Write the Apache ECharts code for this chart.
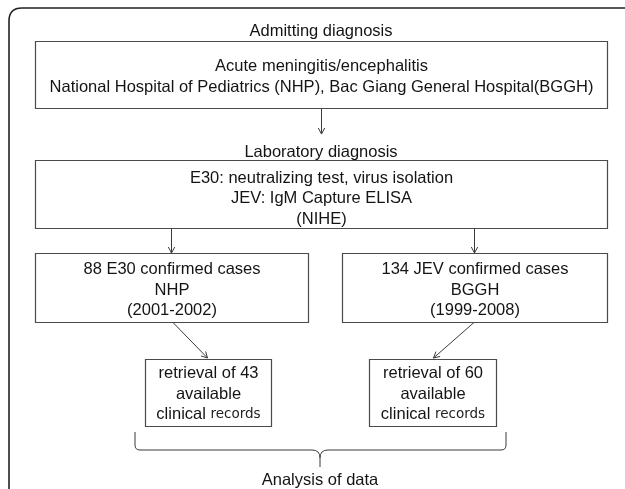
<!DOCTYPE html>
<html>
<head>
<meta charset="utf-8">
<script src="https://cdn.jsdelivr.net/npm/echarts@6/dist/echarts.min.js"></script>
<style>
html, body { margin: 0; padding: 0; background: #fff; }
#flowchart { width: 625px; height: 489px; }
</style>
</head>
<body>
<div id="flowchart"></div>
<script>
// content of the flow chart
var stageTitles = ['Admitting diagnosis', 'Laboratory diagnosis', 'Analysis of data'];
var boxTexts = [
    'Acute meningitis/encephalitis\nNational Hospital of Pediatrics (NHP), Bac Giang General Hospital(BGGH)',
    'E30: neutralizing test, virus isolation\nJEV: IgM Capture ELISA\n(NIHE)',
    '88 E30 confirmed cases\nNHP\n(2001-2002)',
    '134 JEV confirmed cases\nBGGH\n(1999-2008)',
    'retrieval of 43\navailable\nclinical {r|records}',
    'retrieval of 60\navailable\nclinical {r|records}'
];
// from box -> to box (-1 = next stage title)
var arrowLinks = [[0, -1], [1, 2], [1, 3], [2, 4], [3, 5]];
var bracedBoxes = [4, 5];

// layout, in page units (x axis 0..625, y axis 0..489 downwards)
var boxLayout = [
    [35, 41, 607, 108],
    [35, 160, 607, 228],
    [35, 253, 308, 322],
    [342, 253, 607, 322],
    [145, 359, 271, 426],
    [369, 359, 496, 426]
];
var textShift = [2, 4, 2, 2, 1, 1];
var titleLayout = [[321, 31], [321, 152], [320, 480]];
var arrowLayout = [
    [321, 108, 321, 134],
    [171, 228, 171, 253],
    [474, 228, 474, 253],
    [172, 322, 207, 358],
    [474, 322, 433, 358]
];
var braceLayout = { left: 135, right: 506, top: 432, bar: 450, tip: 467, mid: 320 };

var FONT = '"Liberation Sans", Arial, Helvetica, sans-serif';
var LINE = '#3a3a3a';

function pathFrom(api, cmds) {
    // cmds: [['M', x, y], ['Q', cx, cy, x, y], ...] in page units
    var d = '';
    cmds.forEach(function (c) {
        d += c[0];
        for (var k = 1; k < c.length; k += 2) {
            var p = api.coord([c[k], c[k + 1]]);
            d += ' ' + p[0] + ' ' + p[1];
        }
        d += ' ';
    });
    return d;
}

function renderBox(params, api) {
    var i = api.value(0);
    var b = boxLayout[i];
    var p0 = api.coord([b[0], b[1]]);
    var p1 = api.coord([b[2], b[3]]);
    return {
        type: 'rect',
        shape: { x: p0[0] + 0.5, y: p0[1] + 0.5, width: p1[0] - p0[0], height: p1[1] - p0[1] },
        style: { fill: '#fff', stroke: '#4a4a4a', lineWidth: 1.2 },
        textContent: {
            style: {
                text: boxTexts[i],
                fontFamily: FONT,
                fontSize: 16.5,
                lineHeight: 20.5,
                fill: '#141414',
                align: 'center',
                verticalAlign: 'middle',
                rich: {
                    r: { fontFamily: '"DejaVu Sans", sans-serif', fontSize: 13.5, lineHeight: 20.5, fill: '#222' }
                }
            }
        },
        textConfig: { position: 'inside', offset: [0, textShift[i]] }
    };
}

function renderArrow(params, api) {
    var a = arrowLayout[params.dataIndex];
    var s = api.coord([a[0], a[1]]);
    var e = api.coord([a[2], a[3]]);
    var dx = e[0] - s[0], dy = e[1] - s[1];
    var len = Math.sqrt(dx * dx + dy * dy);
    var ux = dx / len, uy = dy / len;
    var hl = 6, hw = 3.2;
    var w1 = [e[0] - ux * hl - uy * hw, e[1] - uy * hl + ux * hw];
    var w2 = [e[0] - ux * hl + uy * hw, e[1] - uy * hl - ux * hw];
    return {
        type: 'group',
        children: [{
            type: 'line',
            shape: { x1: s[0] + 0.5, y1: s[1], x2: e[0] + 0.5, y2: e[1] },
            style: { stroke: LINE, lineWidth: 1 }
        }, {
            type: 'polyline',
            shape: { points: [[w1[0] + 0.5, w1[1]], [e[0] + 0.5, e[1]], [w2[0] + 0.5, w2[1]]] },
            style: { stroke: LINE, lineWidth: 1, fill: null }
        }]
    };
}

function renderTitle(params, api) {
    var t = titleLayout[params.dataIndex];
    var p = api.coord(t);
    return {
        type: 'text',
        x: p[0],
        y: p[1],
        style: {
            text: stageTitles[params.dataIndex],
            fontFamily: FONT,
            fontSize: 16.5,
            fill: '#141414',
            align: 'center',
            verticalAlign: 'middle'
        }
    };
}

function renderFrame(params, api) {
    var br = braceLayout;
    var frame = pathFrom(api, [
        ['M', 9, 520], ['L', 9, 21], ['Q', 9, 8, 22, 8], ['L', 660, 8]
    ]);
    var brace = pathFrom(api, [
        ['M', br.left, br.top], ['L', br.left, br.bar - 5], ['Q', br.left, br.bar, br.left + 5, br.bar],
        ['L', br.mid - 8, br.bar], ['Q', br.mid, br.bar, br.mid, br.bar + 8], ['L', br.mid, br.tip],
        ['M', br.mid, br.bar + 8], ['Q', br.mid, br.bar, br.mid + 8, br.bar],
        ['L', br.right - 5, br.bar], ['Q', br.right, br.bar, br.right, br.bar - 5], ['L', br.right, br.top]
    ]);
    return {
        type: 'group',
        children: [{
            type: 'path',
            shape: { pathData: frame },
            style: { stroke: '#222', lineWidth: 1.6, fill: null }
        }, {
            type: 'path',
            shape: { pathData: brace },
            style: { stroke: LINE, lineWidth: 1, fill: null }
        }]
    };
}

var chart = echarts.init(document.getElementById('flowchart'));
var option = {
    animation: false,
    backgroundColor: '#fff',
    grid: { left: 0, right: 0, top: 0, bottom: 0 },
    xAxis: { type: 'value', min: 0, max: 625, show: false },
    yAxis: { type: 'value', min: 0, max: 489, inverse: true, show: false },
    series: [{
        type: 'custom',
        name: 'frame',
        renderItem: renderFrame,
        data: [bracedBoxes]
    }, {
        type: 'custom',
        name: 'arrows',
        renderItem: renderArrow,
        data: arrowLinks
    }, {
        type: 'custom',
        name: 'boxes',
        renderItem: renderBox,
        data: boxTexts.map(function (t, i) { return [i]; })
    }, {
        type: 'custom',
        name: 'titles',
        renderItem: renderTitle,
        data: stageTitles.map(function (t, i) { return [i]; })
    }]
};
chart.setOption(option);
</script>
</body>
</html>
